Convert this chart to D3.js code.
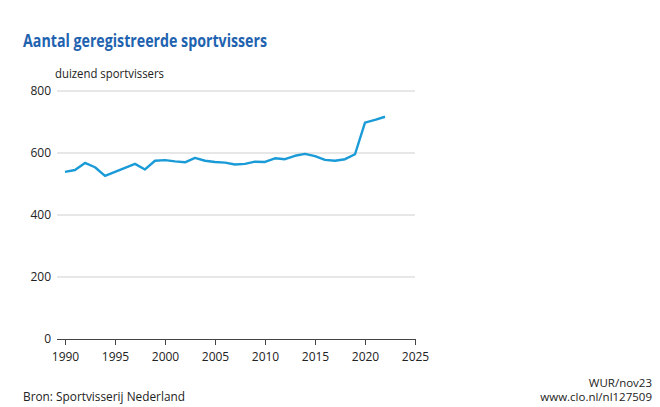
<!DOCTYPE html>
<html><head><meta charset="utf-8">
<script src="https://cdn.jsdelivr.net/npm/d3@7"></script>
<style>body{margin:0;background:#fff}svg{display:block}text{font-family:"Open Sans",sans-serif}</style>
</head><body>
<svg id="c" width="660" height="407"></svg>
<script>
const years = [1990,1991,1992,1993,1994,1995,1996,1997,1998,1999,2000,2001,2002,2003,2004,2005,2006,2007,2008,2009,2010,2011,2012,2013,2014,2015,2016,2017,2018,2019,2020,2021,2022];
const values = [539,545,568,554,526,539,552,565,547,575,577,573,570,584,575,571,569,563,565,572,571,583,580,591,597,590,578,575,580,596,698,707,717];
const yTicks = [0,200,400,600,800];
const xTicks = [1990,1995,2000,2005,2010,2015,2020,2025];

const svg = d3.select("#c");
const x = d3.scaleLinear().domain([1990,2025]).range([65,415]);
const y = d3.scaleLinear().domain([0,800]).range([339,91]);

svg.append("text").attr("x",23).attr("y",47).attr("fill","#1f63b0")
  .attr("font-size",17).attr("font-weight","bold")
  .attr("textLength",244).attr("lengthAdjust","spacingAndGlyphs")
  .text("Aantal geregistreerde sportvissers");
svg.append("text").attr("x",55).attr("y",78).attr("fill","#222").attr("font-size",12)
  .attr("textLength",109).attr("lengthAdjust","spacingAndGlyphs").text("duizend sportvissers");

// grid
svg.append("g").selectAll("line").data(yTicks.filter(d=>d>0)).join("line")
  .attr("x1",57).attr("x2",415).attr("y1",d=>y(d)).attr("y2",d=>y(d))
  .attr("stroke","#cfcfcf").attr("stroke-width",1);
svg.append("g").selectAll("text").data(yTicks).join("text")
  .attr("x",51).attr("y",d=>y(d)+4).attr("text-anchor","end").attr("font-size",12).attr("fill","#222").text(d=>d);

// x axis
const xa = svg.append("g").attr("transform","translate(0,339)")
  .call(d3.axisBottom(x).tickValues(xTicks).tickFormat(d3.format("d")).tickSize(6).tickSizeOuter(0));
xa.select(".domain").attr("stroke","#444").attr("d","M57,0.5H415");
xa.selectAll(".tick line").attr("stroke","#444");
xa.selectAll(".tick text").attr("font-size",12).attr("fill","#222").attr("font-family","'Open Sans',sans-serif").attr("dy","1.05em");

const line = d3.line().x((d,i)=>x(years[i])).y(d=>y(d));
svg.append("path").datum(values).attr("d",line).attr("fill","none")
  .attr("stroke","#1a9bd7").attr("stroke-width",2.4).attr("stroke-linejoin","round");

svg.append("text").attr("x",23).attr("y",401).attr("font-size",12).attr("fill","#222")
  .attr("textLength",162).attr("lengthAdjust","spacingAndGlyphs").text("Bron: Sportvisserij Nederland");
svg.append("text").attr("x",652).attr("y",387).attr("text-anchor","end").attr("font-size",11.5).attr("fill","#222").text("WUR/nov23");
svg.append("text").attr("x",652).attr("y",401).attr("text-anchor","end").attr("font-size",11.5).attr("fill","#222").text("www.clo.nl/nl127509");
</script>
</body></html>
